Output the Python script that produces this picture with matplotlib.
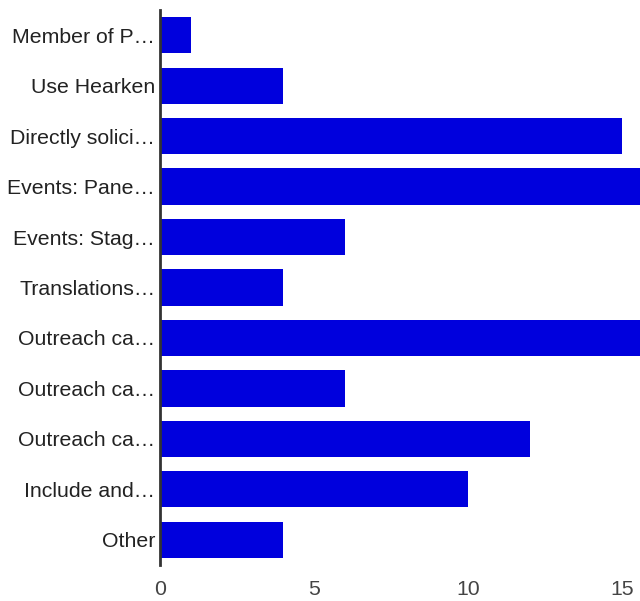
import matplotlib
matplotlib.use("Agg")
import matplotlib.pyplot as plt

categories = ["Member of P…", "Use Hearken", "Directly solici…", "Events: Pane…",
              "Events: Stag…", "Translations…", "Outreach ca…", "Outreach ca…",
              "Outreach ca…", "Include and…", "Other"]
values = [1, 4, 15, 16, 6, 4, 16, 6, 12, 10, 4]
xticks = [0, 5, 10, 15]

plt.rcParams['font.family'] = ['Liberation Sans', 'DejaVu Sans']

fig = plt.figure(figsize=(6.4, 6.01), dpi=100)
ax = fig.add_axes([160/640, 1 - 565/601, 480/640, 555/601])

ypos = list(range(len(categories)))
ax.barh(ypos, values, height=0.72, color='#0000dd')
ax.set_ylim(len(categories) - 0.5, -0.5)
ax.set_xlim(0, 15.58)
ax.set_yticks(ypos)
ax.set_yticklabels(categories, fontsize=15.3, color='#222222')
ax.set_xticks(xticks)
ax.set_xticklabels([str(t) for t in xticks], fontsize=15.3, color='#444444')
ax.tick_params(axis='both', length=0)
ax.tick_params(axis='y', pad=3.5)
ax.tick_params(axis='x', pad=11)
for s in ['top', 'right', 'bottom']:
    ax.spines[s].set_visible(False)
ax.spines['left'].set_color('#333333')
ax.spines['left'].set_linewidth(2)

fig.savefig("out.png", dpi=100)
